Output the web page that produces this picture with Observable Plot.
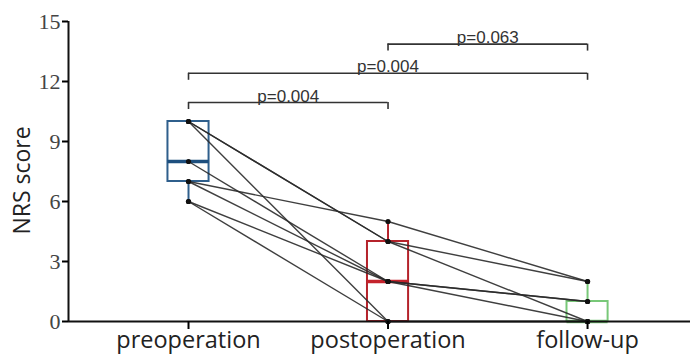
<!DOCTYPE html>
<html>
<head>
<meta charset="utf-8">
<script src="https://cdn.jsdelivr.net/npm/d3@7"></script>
<script src="https://cdn.jsdelivr.net/npm/@observablehq/plot@0.6"></script>
<style>
  html, body { margin: 0; padding: 0; background: #fff; }
  #chart svg { display: block; }
</style>
</head>
<body>
<div id="chart"></div>
<script>
// ---- data ----
const categories = ["preoperation", "postoperation", "follow-up"];

// paired NRS scores per patient: [preoperation, postoperation, follow-up]
const preop  = [10, 10, 10, 8, 7, 7, 6, 6];
const postop = [ 4,  4,  0, 2, 5, 2, 2, 0];
const follow = [ 2,  0,  0, 1, 2, 0, 1, 0];

// box statistics per group
const boxMin    = [6, 0, 0];
const boxQ1     = [7, 0, 0];
const boxMedian = [8, 2, 0];
const boxQ3     = [10, 4, 1];
const boxMax    = [10, 5, 2];

// significance comparisons
const compFrom = [0, 0, 1];
const compTo   = [1, 2, 2];
const pLabels  = ["p=0.004", "p=0.004", "p=0.063"];

const yTicks = [0, 3, 6, 9, 12, 15];

// ---- derived tables ----
const groupColors = ["#2f5f8c", "#b5232b", "#78c878"];
const medianColors = ["#1d4f7e", "#c4232c", "#78c878"];
const series = [preop, postop, follow];
const points = [];
preop.forEach((_, s) => {
  series.forEach((arr, g) => points.push({subject: s, group: g, value: arr[s]}));
});
const boxes = categories.map((c, g) => ({
  g, min: boxMin[g], q1: boxQ1[g], med: boxMedian[g], q3: boxQ3[g], max: boxMax[g],
  color: groupColors[g], mcolor: medianColors[g]
}));
const halfW = 0.103;
const brackets = pLabels.map((label, k) => ({
  from: compFrom[k], to: compTo[k], label, level: 10.95 + k * 1.46
}));
const tickLen = 0.35;
const xDomain = [-0.6015, 2.516];

const chart = Plot.plot({
  width: 699,
  height: 357,
  marginLeft: 68,
  marginRight: 9,
  marginTop: 21,
  marginBottom: 36,
  x: {domain: xDomain, axis: null},
  y: {domain: [0, 15], axis: null},
  marks: [
    // boxes
    Plot.rect(boxes, {x1: d => d.g - halfW, x2: d => d.g + halfW, y1: "q1", y2: "q3",
      fill: "white", stroke: "color", strokeWidth: 2}),
    Plot.ruleX(boxes, {x: "g", y1: "q3", y2: "max", stroke: "color", strokeWidth: 2}),
    Plot.ruleX(boxes, {x: "g", y1: "min", y2: "q1", stroke: "color", strokeWidth: 2}),
    Plot.ruleY(boxes, {y: "med", x1: d => d.g - halfW, x2: d => d.g + halfW,
      stroke: "mcolor", strokeWidth: 3.5}),
    // paired lines
    Plot.line(points, {x: "group", y: "value", z: "subject", stroke: "#2a2a2a",
      strokeWidth: 1.4, strokeOpacity: 0.9}),
    Plot.dot(points, {x: "group", y: "value", r: 2.6, fill: "#111", stroke: "none"}),
    // axes
    Plot.ruleY([0], {stroke: "#111", strokeWidth: 2}),
    Plot.ruleX([xDomain[0]], {y1: 0, y2: 15, stroke: "#111", strokeWidth: 2}),
    Plot.axisY({ticks: yTicks, tickSize: 6, tickPadding: 2, strokeWidth: 2,
      fontSize: 22, fontFamily: "Liberation Serif, serif", fill: "#444", label: null}),
    Plot.axisX({ticks: [0, 1, 2], tickFormat: i => categories[i], tickSize: 8,
      tickPadding: 2, strokeWidth: 2, fontSize: 23.5, fontFamily: "Open Sans, sans-serif",
      fill: "#222", label: null}),
    Plot.text(["NRS score"], {frameAnchor: "left", rotate: -90, textAnchor: "middle",
      dx: -46, dy: 9, fontSize: 23, fontFamily: "Open Sans, sans-serif", fill: "#222"}),
    // significance brackets
    Plot.ruleY(brackets, {y: "level", x1: "from", x2: "to", stroke: "#333", strokeWidth: 1.6}),
    Plot.ruleX(brackets, {x: "from", y1: "level", y2: d => d.level - tickLen, stroke: "#333", strokeWidth: 1.6}),
    Plot.ruleX(brackets, {x: "to", y1: "level", y2: d => d.level - tickLen, stroke: "#333", strokeWidth: 1.6}),
    Plot.text(brackets, {x: d => (d.from + d.to) / 2, y: "level", text: "label",
      lineAnchor: "bottom", dy: -1, fontSize: 17, fontFamily: "Liberation Sans, Arial, sans-serif",
      fill: "#333"})
  ]
});
document.getElementById("chart").appendChild(chart);
</script>
</body>
</html>
